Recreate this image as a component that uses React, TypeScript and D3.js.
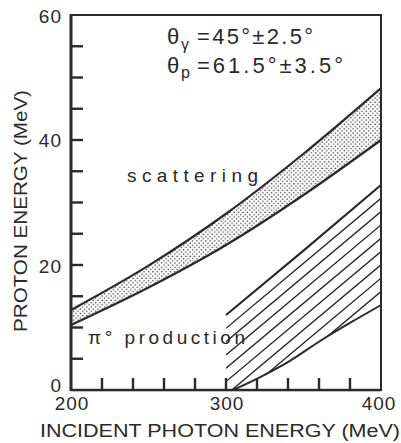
import React from 'react';
import * as d3 from 'd3';

const W = 401;
const H = 443;

// data
const photonEnergy = [200, 250, 300, 350, 400];
const scatterUpper = [12.8, 19.9, 28.2, 37.8, 48.3];
const scatterLower = [10.4, 16.4, 23.2, 31.2, 40.0];
const pionUpperE = [300, 350, 400];
const pionUpper = [12.0, 22.3, 32.8];
const pionLowerE = [304.7, 320.8, 340.2, 361.7, 383.2, 400];
const pionLower = [0, 1.9, 4.5, 8.0, 11.2, 13.6];
const xMinorTicks = [220, 240, 260, 280, 300, 320, 340, 360, 380];
const yMinorTicks = [5, 10, 15, 20, 25, 30, 35, 40, 45, 50, 55];
const xTickLabels = ['200', '300', '400'];
const xTickValues = [200, 300, 400];
const yTickLabels = ['0', '20', '40', '60'];
const yTickValues = [0, 20, 40, 60];
const hatchStep = 2.13;
const hatchCount = 9;

const INK = '#2a2a2a';
const FONT = "'Liberation Sans', Arial, sans-serif";

export default function App() {
  const x = d3.scaleLinear().domain([200, 400]).range([71, 381]);
  const y = d3.scaleLinear().domain([0, 60]).range([390, 15]);

  const line = d3
    .line<[number, number]>()
    .x((d) => x(d[0]))
    .y((d) => y(d[1]));
  const smooth = d3
    .line<[number, number]>()
    .x((d) => x(d[0]))
    .y((d) => y(d[1]))
    .curve(d3.curveMonotoneX);

  const upPts: [number, number][] = photonEnergy.map((e, i) => [e, scatterUpper[i]]);
  const loPts: [number, number][] = photonEnergy.map((e, i) => [e, scatterLower[i]]);
  const band = d3
    .area<number>()
    .x((_, i) => x(photonEnergy[i]))
    .y0((_, i) => y(scatterLower[i]))
    .y1((_, i) => y(scatterUpper[i]))
    .curve(d3.curveMonotoneX)(photonEnergy);

  const pUpPts: [number, number][] = pionUpperE.map((e, i) => [e, pionUpper[i]]);
  const pLoPts: [number, number][] = pionLowerE.map((e, i) => [e, pionLower[i]]);
  const upperAt = d3.scaleLinear().domain(pionUpperE).range(pionUpper);

  const clipPts: [number, number][] = [
    ...pUpPts,
    ...pLoPts.slice().reverse(),
    [300, 0],
  ];
  const clipPath = line(clipPts) + 'Z';

  const hatchPath = d3
    .range(1, hatchCount + 1)
    .map(
      (k) =>
        `M${x(300)},${y(upperAt(300) - k * hatchStep)}L${x(400)},${y(upperAt(400) - k * hatchStep)}`
    )
    .join('');

  const yLabelOffsets = [2, 8, 7, 8];

  return (
    <svg
      width={W}
      height={H}
      style={{ position: 'absolute', left: 0, top: 0, background: '#fff' }}
      fontFamily={FONT}
    >
      <defs>
        <pattern id="stipple" width="4.4" height="4.4" patternUnits="userSpaceOnUse">
          <circle cx="1.1" cy="1.1" r="0.75" fill="#333" />
          <circle cx="3.3" cy="3.3" r="0.75" fill="#333" />
        </pattern>
        <clipPath id="pionClip">
          <path d={clipPath} />
        </clipPath>
      </defs>
      <rect width={W} height={H} fill="#fff" />

      {/* scattering band */}
      <path d={band || ''} fill="url(#stipple)" />
      <path d={smooth(upPts) || ''} fill="none" stroke={INK} strokeWidth={2.2} />
      <path d={smooth(loPts) || ''} fill="none" stroke={INK} strokeWidth={2.2} />

      {/* pion production region */}
      <path d={hatchPath} clipPath="url(#pionClip)" fill="none" stroke={INK} strokeWidth={1.4} />
      <path d={line(pUpPts) || ''} fill="none" stroke={INK} strokeWidth={2.2} />
      <path d={smooth(pLoPts) || ''} fill="none" stroke={INK} strokeWidth={2} />

      {/* frame */}
      <rect
        x={x(200)}
        y={y(60)}
        width={x(400) - x(200)}
        height={y(0) - y(60)}
        fill="none"
        stroke={INK}
        strokeWidth={2}
      />
      <rect x={x(200) - 1.5} y={y(60) - 1} width={3} height={y(0) - y(60) + 2} fill={INK} />
      <rect x={x(200)} y={y(0) - 1.2} width={x(400) - x(200)} height={2.5} fill={INK} />

      {/* ticks */}
      {yMinorTicks.map((v) => (
        <rect key={'yt' + v} x={x(200)} y={y(v) - 1.2} width={12} height={2.4} fill={INK} />
      ))}
      {xMinorTicks.map((v) => (
        <rect key={'xt' + v} x={x(v) - 1.2} y={y(0) - 12} width={2.4} height={12} fill={INK} />
      ))}

      {/* tick labels */}
      {yTickValues.map((v, i) => (
        <text
          key={'yl' + v}
          x={62}
          y={y(v) + yLabelOffsets[i]}
          textAnchor="end"
          fontSize={19}
          letterSpacing={1}
          fill={INK}
        >
          {yTickLabels[i]}
        </text>
      ))}
      {xTickValues.map((v, i) => (
        <text
          key={'xl' + v}
          x={x(v) + (i === 2 ? -2 : 1)}
          y={410}
          textAnchor="middle"
          fontSize={19}
          letterSpacing={1}
          fill={INK}
        >
          {xTickLabels[i]}
        </text>
      ))}

      {/* axis titles */}
      <text x={40} y={437} fontSize={18} textLength={360} lengthAdjust="spacingAndGlyphs" fill={INK}>
        INCIDENT PHOTON ENERGY (MeV)
      </text>
      <text
        transform="translate(27,211) rotate(-90)"
        textAnchor="middle"
        fontSize={19}
        textLength={242}
        lengthAdjust="spacingAndGlyphs"
        fill={INK}
      >
        PROTON ENERGY (MeV)
      </text>

      {/* annotations */}
      <text x={167} y={44} fontSize={22} fill={INK}>θ</text>
      <text x={181} y={50} fontSize={16} fill={INK}>γ</text>
      <text x={197} y={44} fontSize={22} textLength={116} lengthAdjust="spacing" fill={INK}>
        =45°±2.5°
      </text>
      <text x={167} y={73} fontSize={22} fill={INK}>θ</text>
      <text x={181} y={78} fontSize={16} fill={INK}>p</text>
      <text x={197} y={73} fontSize={22} textLength={146} lengthAdjust="spacing" fill={INK}>
        =61.5°±3.5°
      </text>

      <text x={127} y={182} fontSize={19} textLength={131} lengthAdjust="spacing" fill={INK}>
        scattering
      </text>
      <text x={88} y={344} fontSize={19} textLength={157} lengthAdjust="spacing" fill={INK}>
        π° production
      </text>
    </svg>
  );
}
